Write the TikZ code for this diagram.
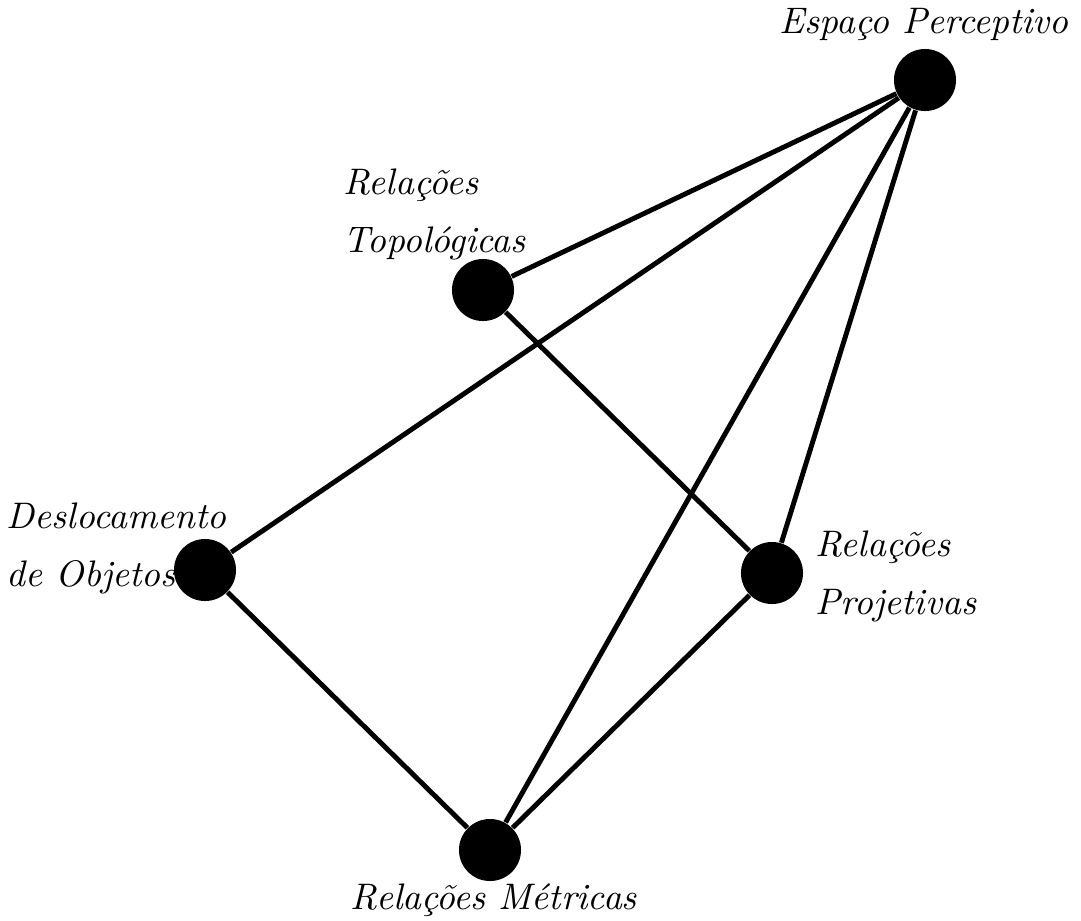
\documentclass[tikz,border=0pt]{standalone}
\usepackage{tikz}
\usetikzlibrary{positioning}
\tikzstyle{dot} = [circle, fill=black, minimum size=0.62cm, inner sep=0pt]
\tikzstyle{edge} = [line width=1.4pt]
\tikzstyle{tag} = [inner sep=0pt, align=left, font=\fontsize{10.5}{16.5}\selectfont\itshape]

\begin{document}
\begin{tikzpicture}[x=0.01cm, y=-0.01cm]
\useasboundingbox (0,0) rectangle (1081,920);

% Vertices
\node (perceptivo) [dot] at (925,80) {};
\node (topologicas) [dot] at (483,290) {};
\node (deslocamento) [dot] at (205,570) {};
\node (projetivas) [dot] at (772,573) {};
\node (metricas) [dot] at (490,850) {};

% Labels
\node (perceptivo_tag) [tag] at (924,24) {Espaço Perceptivo};
\node (topologicas_tag) [tag, anchor=west] at (343,214) {Relações\\Topológicas};
\node (deslocamento_tag) [tag, anchor=west] at (6,548) {Deslocamento\\de Objetos};
\node (projetivas_tag) [tag, anchor=west] at (815,576) {Relações\\Projetivas};
\node (metricas_tag) [tag] at (494,900) {Relações Métricas};

% Edges
\draw [edge] (perceptivo) -- (topologicas);
\draw [edge] (perceptivo) -- (deslocamento);
\draw [edge] (perceptivo) -- (metricas);
\draw [edge] (perceptivo) -- (projetivas);
\draw [edge] (topologicas) -- (projetivas);
\draw [edge] (deslocamento) -- (metricas);
\draw [edge] (projetivas) -- (metricas);

\end{tikzpicture}
\end{document}
